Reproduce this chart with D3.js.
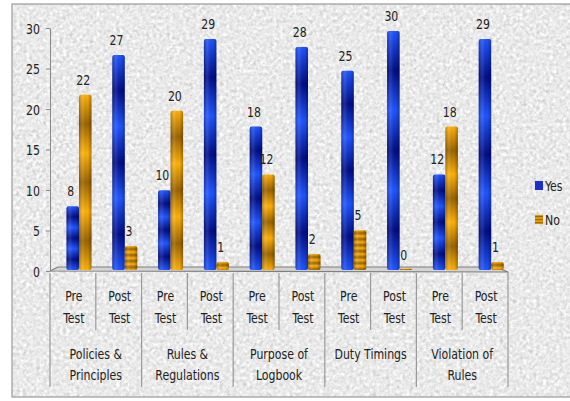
<!DOCTYPE html>
<html lang="en">
<head>
<meta charset="UTF-8">
<title>Pre / Post test chart</title>
<style>
  body { margin: 0; background: #fff; }
  svg text { font-family: "DejaVu Sans Condensed", "DejaVu Sans", sans-serif; fill: #222; }
</style>
</head>
<body>
<svg id="viz" width="570" height="401"></svg>
<script src="https://d3js.org/d3.v7.min.js"></script>
<script>
// data
const groups = ["Policies & Principles", "Rules & Regulations", "Purpose of Logbook", "Duty Timings", "Violation of Rules"];
const groupLines = [["Policies &", "Principles"], ["Rules &", "Regulations"], ["Purpose of", "Logbook"], ["Duty Timings"], ["Violation of", "Rules"]];
const tests = ["Pre Test", "Post Test"];
const series = ["Yes", "No"];
const yesVals = [8, 27, 10, 29, 18, 28, 25, 30, 12, 29];
const noVals  = [22, 3, 20, 1, 12, 2, 5, 0, 18, 1];
const yTicks = [0, 5, 10, 15, 20, 25, 30];

const colors = {
  Yes: {light: "#1f55ff", dark: "#000d86"},
  No:  {light: "#ffb10a", dark: "#9a6400"}
};

const svg = d3.select("#viz");
const defs = svg.append("defs");

// narrow text, calibri-ish
function label(parent, x, y, str, anchor) {
  return parent.append("text")
    .attr("transform", `translate(${x},${y}) scale(0.84,1)`)
    .attr("text-anchor", anchor || "middle")
    .style("font-size", "14.5px")
    .text(str);
}

// grey granite-ish background
const f = defs.append("filter").attr("id", "noise")
  .attr("x", 0).attr("y", 0).attr("width", "100%").attr("height", "100%")
  .attr("color-interpolation-filters", "sRGB");
f.append("feTurbulence").attr("type", "fractalNoise").attr("baseFrequency", 0.3)
  .attr("numOctaves", 3).attr("seed", 7);
f.append("feColorMatrix").attr("type", "matrix")
  .attr("values", "0.33 0.33 0.33 0 0  0.33 0.33 0.33 0 0  0.33 0.33 0.33 0 0  0 0 0 0 1");
const ct = f.append("feComponentTransfer");
["feFuncR", "feFuncG", "feFuncB"].forEach(n => ct.append(n).attr("type", "linear").attr("slope", 0.5).attr("intercept", 0.67));

svg.append("rect").attr("width", 570).attr("height", 401).attr("fill", "#fff");
svg.append("rect").attr("x", 12).attr("y", 4).attr("width", 570).attr("height", 393)
  .attr("filter", "url(#noise)");
svg.append("rect").attr("x", 12).attr("y", 4).attr("width", 570).attr("height", 393)
  .attr("fill", "none").attr("stroke", "#9a9a9a").attr("stroke-width", 1.2);

// scales
const x0 = d3.scaleBand().domain(groups).range([50, 508]);
const x1 = d3.scaleBand().domain(tests).range([0, x0.bandwidth()]);
const xs = d3.scaleBand().domain(series).range([16.5, 41.5]);
const y = d3.scaleLinear().domain([0, 30]).range([271, 28]);
const yBar = d3.scaleLinear().domain([0, 30]).range([270, 31]);

// flat rows
const rows = [];
groups.forEach((g, gi) => tests.forEach((t, ti) => {
  const k = gi * 2 + ti;
  rows.push({g, t, s: "Yes", v: yesVals[k]});
  rows.push({g, t, s: "No", v: noVals[k]});
}));

// horizontal shading for the cylinders
const sh = defs.append("linearGradient").attr("id", "shade").attr("x1", 0).attr("x2", 1).attr("y1", 0).attr("y2", 0);
sh.append("stop").attr("offset", 0).attr("stop-color", "#000").attr("stop-opacity", 0.25);
sh.append("stop").attr("offset", 0.3).attr("stop-color", "#fff").attr("stop-opacity", 0.12);
sh.append("stop").attr("offset", 0.7).attr("stop-color", "#000").attr("stop-opacity", 0);
sh.append("stop").attr("offset", 1).attr("stop-color", "#000").attr("stop-opacity", 0.3);

// floor
const fl = y(0);
svg.append("path")
  .attr("d", `M50,${fl}L58,${fl - 4}L496,${fl - 4}L508,${fl + 1}Z`)
  .attr("fill", "#d4d4d4").attr("stroke", "#7f7f7f").attr("stroke-width", 1.2);

// bars
rows.forEach((d, i) => {
  const bx = x0(d.g) + x1(d.t) + xs(d.s);
  const top = yBar(d.v);
  const h = Math.max(yBar(0) - top, 1.5);
  const periods = h < 50 ? Math.max(h / 6, 1) : 3;
  const gid = "bg" + i;
  const lg = defs.append("linearGradient").attr("id", gid)
    .attr("x1", 0).attr("y1", 0).attr("x2", 0).attr("y2", 1 / periods)
    .attr("spreadMethod", "repeat");
  lg.append("stop").attr("offset", 0).attr("stop-color", colors[d.s].light);
  lg.append("stop").attr("offset", 0.5).attr("stop-color", colors[d.s].dark);
  lg.append("stop").attr("offset", 1).attr("stop-color", colors[d.s].light);
  svg.append("rect").attr("x", bx).attr("y", yBar(0) - h).attr("width", xs.bandwidth()).attr("height", h)
    .attr("rx", 2).attr("fill", `url(#${gid})`);
  svg.append("rect").attr("x", bx).attr("y", yBar(0) - h).attr("width", xs.bandwidth()).attr("height", h)
    .attr("rx", 2).attr("fill", "url(#shade)");
  label(svg, bx + xs.bandwidth() / 2 - 2, yBar(d.v) - 10, d.v);
});

// y axis
const ax = svg.append("g").attr("transform", "translate(50,0)")
  .call(d3.axisLeft(y).tickValues(yTicks).tickSize(4).tickSizeOuter(0).tickPadding(8));
ax.select(".domain").attr("stroke", "#8a8a8a");
ax.selectAll(".tick line").attr("stroke", "#8a8a8a");
ax.selectAll(".tick text").remove();
ax.selectAll(".tick").each(function(v) {
  label(d3.select(this), -10, 5, v, "end");
});

// category axis lines
const catG = svg.append("g").attr("stroke", "#9a9a9a").attr("stroke-width", 1.2);
groups.forEach(g => {
  catG.append("line").attr("x1", x0(g)).attr("x2", x0(g)).attr("y1", fl + 2).attr("y2", 387);
  catG.append("line").attr("x1", x0(g) + x1("Post Test")).attr("x2", x0(g) + x1("Post Test")).attr("y1", fl + 2).attr("y2", 330);
});
catG.append("line").attr("x1", x0.range()[1]).attr("x2", x0.range()[1]).attr("y1", fl + 1).attr("y2", 387);

// sub labels
groups.forEach((g, gi) => {
  tests.forEach(t => {
    const cx = x0(g) + x1(t) + x1.bandwidth() / 2 + 1;
    t.split(" ").forEach((p, li) => label(svg, cx, 301 + li * 22, p));
  });
  const gx = x0(g) + x0.bandwidth() / 2;
  groupLines[gi].forEach((p, li) => label(svg, gx, 359 + li * 21, p));
});

// legend
series.forEach((s, i) => {
  const ly = 186 + i * 34;
  const lg = defs.append("linearGradient").attr("id", "lg" + s)
    .attr("x1", 0).attr("y1", 0).attr("x2", 0).attr("y2", s === "No" ? 0.34 : 1).attr("spreadMethod", "repeat");
  lg.append("stop").attr("offset", 0).attr("stop-color", colors[s].light);
  lg.append("stop").attr("offset", 0.5).attr("stop-color", colors[s].dark);
  lg.append("stop").attr("offset", 1).attr("stop-color", colors[s].light);
  svg.append("rect").attr("x", 535).attr("y", ly - 5).attr("width", 8).attr("height", 9)
    .attr("fill", s === "Yes" ? "#1a2fd0" : `url(#lg${s})`);
  label(svg, 545, ly + 5, s, "start");
});
</script>
</body>
</html>
